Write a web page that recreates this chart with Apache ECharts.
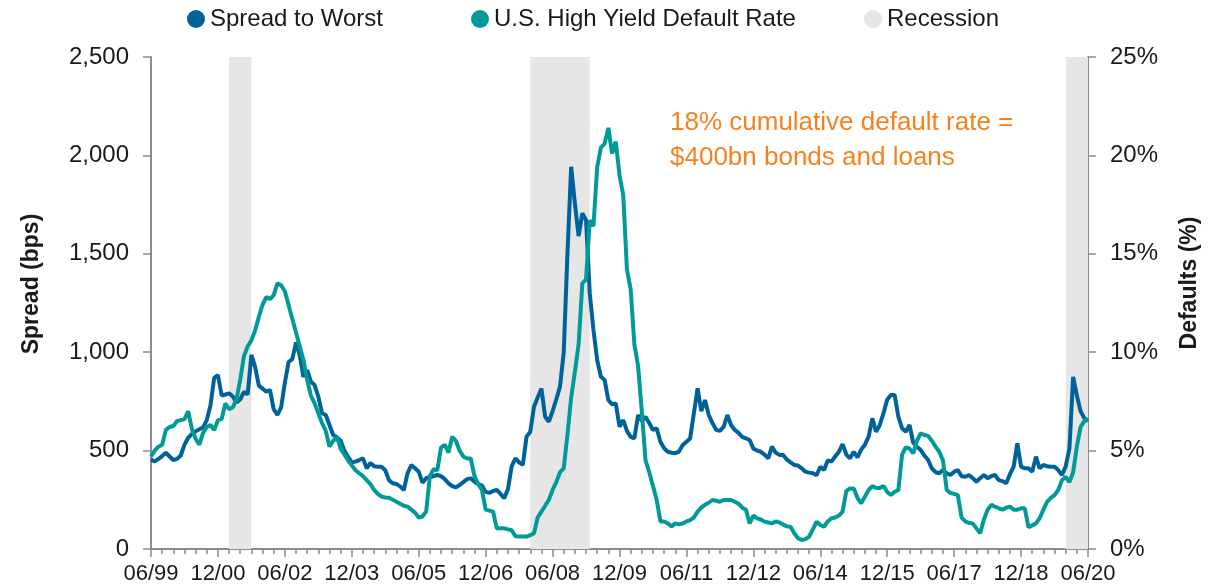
<!DOCTYPE html>
<html lang="en">
<head>
    <meta charset="utf-8" />
    <title>Spread to Worst vs U.S. High Yield Default Rate</title>
    <script type="text/javascript" src="https://cdn.jsdelivr.net/npm/echarts@6/dist/echarts.min.js"></script>
</head>
<body style="margin:0;background-color:#fff">
    <div id="container" style="width:1214px;height:588px;"></div>
</body>
</html>
<script type="text/javascript">
    // monthly categories 06/99 .. 06/20
    var months = [];
    for (var k = 0; k <= 252; k++) {
        var m = 5 + k;
        var mm = (m % 12) + 1;
        var yy = (1999 + Math.floor(m / 12)) % 100;
        months.push((mm < 10 ? '0' : '') + mm + '/' + (yy < 10 ? '0' : '') + yy);
    }

    // spread to worst, bps (left axis)
    var spreadToWorst = [
        455, 445, 458, 472, 489, 470, 452, 458, 475, 530, 565, 585, 598, 608, 618, 655, 730, 870, 884, 780,
        785, 791, 775, 745, 760, 799, 785, 986, 925, 830, 815, 800, 808, 710, 681, 720, 845, 950, 965, 1050,
        985, 875, 909, 850, 833, 774, 690, 681, 630, 579, 568, 550, 500, 468, 440, 444, 452, 461, 410, 437,
        420, 418, 418, 400, 350, 334, 330, 318, 300, 385, 427, 410, 393, 337, 360, 367, 370, 376, 370, 355,
        334, 320, 313, 325, 340, 355, 359, 342, 330, 322, 290, 285, 295, 300, 280, 258, 305, 420, 461, 440,
        427, 571, 596, 723, 770, 816, 672, 647, 700, 760, 825, 1000, 1500, 1942, 1756, 1590, 1706, 1672, 1300, 1113,
        960, 875, 859, 757, 735, 740, 621, 655, 600, 570, 562, 681, 650, 672, 640, 605, 613, 545, 512, 494,
        489, 487, 495, 528, 545, 562, 690, 816, 700, 757, 681, 640, 605, 600, 620, 681, 630, 605, 590, 570,
        562, 554, 510, 500, 494, 480, 461, 520, 490, 478, 478, 455, 440, 427, 424, 410, 393, 388, 385, 375,
        418, 401, 450, 444, 470, 494, 533, 480, 461, 494, 466, 505, 530, 571, 664, 596, 630, 690, 760, 782,
        782, 672, 613, 596, 630, 540, 520, 503, 475, 452, 410, 390, 385, 401, 385, 376, 393, 401, 370, 367,
        376, 360, 342, 360, 376, 359, 370, 376, 350, 345, 334, 380, 418, 537, 418, 410, 410, 393, 469, 410,
        427, 420, 418, 418, 401, 376, 420, 510, 875, 780, 700, 665, 650
    ];

    // U.S. high yield default rate, % (right axis)
    var defaultRate = [
        4.7, 5.0, 5.2, 5.3, 6.05, 6.2, 6.25, 6.5, 6.55, 6.6, 7.0, 6.1, 5.6, 5.3, 5.9, 6.2, 6.3, 6.05, 6.55, 6.6,
        7.4, 7.1, 7.2, 7.6, 8.6, 9.8, 10.3, 10.6, 11.1, 11.8, 12.4, 12.8, 12.7, 12.9, 13.5, 13.4, 13.1, 12.4, 11.7, 11.0,
        10.3, 9.6, 8.6, 7.8, 7.4, 6.9, 6.4, 6.0, 5.2, 5.5, 5.7, 5.1, 4.8, 4.5, 4.25, 4.0, 3.85, 3.7, 3.5, 3.3,
        3.0, 2.8, 2.66, 2.62, 2.6, 2.5, 2.4, 2.3, 2.2, 2.15, 2.0, 1.85, 1.6, 1.65, 1.9, 3.7, 4.05, 4.0, 5.15, 5.3,
        4.9, 5.7, 5.5, 5.0, 4.7, 4.6, 4.6, 3.7, 3.3, 3.0, 2.0, 1.95, 1.9, 1.05, 1.05, 1.05, 1.0, 0.95, 0.65, 0.63,
        0.63, 0.63, 0.7, 0.8, 1.6, 1.9, 2.2, 2.5, 3.0, 3.4, 3.9, 4.1, 5.8, 7.7, 9.0, 10.4, 13.5, 13.7, 16.7, 16.4,
        19.4, 20.4, 20.6, 21.4, 20.1, 20.7, 19.0, 18.0, 14.2, 13.2, 10.4, 9.3, 7.0, 4.5, 3.9, 3.2, 2.5, 1.4, 1.4, 1.3,
        1.15, 1.3, 1.25, 1.3, 1.4, 1.47, 1.6, 1.9, 2.1, 2.25, 2.35, 2.49, 2.45, 2.4, 2.49, 2.49, 2.49, 2.4, 2.3, 2.1,
        2.0, 1.3, 1.7, 1.56, 1.5, 1.39, 1.35, 1.3, 1.4, 1.35, 1.25, 1.15, 1.13, 0.8, 0.55, 0.46, 0.5, 0.63, 1.0, 1.39,
        1.22, 1.13, 1.4, 1.56, 1.6, 1.7, 1.9, 2.95, 3.08, 3.08, 2.6, 2.32, 2.66, 3.0, 3.2, 3.1, 3.1, 3.2, 2.9, 2.74,
        2.91, 3.0, 4.8, 5.17, 5.1, 4.86, 5.5, 5.88, 5.79, 5.75, 5.5, 5.2, 4.94, 4.5, 3.0, 2.85, 2.8, 2.74, 1.6, 1.4,
        1.32, 1.3, 1.05, 0.8, 1.5, 2.0, 2.24, 2.15, 2.07, 2.0, 2.1, 2.15, 2.0, 2.0, 2.07, 2.07, 1.1, 1.2, 1.3, 1.56,
        2.0, 2.4, 2.6, 2.74, 3.0, 3.5, 3.67, 3.4, 3.9, 5.2, 6.2, 6.5, 6.64
    ];

    // recession periods (start, end month)
    var recessions = [['03/01', '09/01'], ['12/07', '04/09'], ['12/19', '06/20']];

    var font = "'Liberation Sans', Arial, sans-serif";
    var dom = document.getElementById("container");
    var myChart = echarts.init(dom);

    // one legend box per item so the gaps can follow the original
    var legendBase = {
        top: 2,
        icon: 'circle',
        itemWidth: 18,
        itemHeight: 18,
        textStyle: { fontSize: 24, color: '#1a1a1a', fontFamily: font }
    };

    var option = {
        backgroundColor: '#ffffff',
        animation: false,
        textStyle: { fontFamily: font },
        legend: [
            echarts.util.extend({ data: ['Spread to Worst'], left: 182 }, legendBase),
            echarts.util.extend({ data: ['U.S. High Yield Default Rate'], left: 466 }, legendBase),
            echarts.util.extend({ data: ['Recession'], left: 859 }, legendBase)
        ],
        grid: { left: 151, right: 126, top: 57, bottom: 39 },
        xAxis: [
            {
                type: 'category',
                data: months,
                boundaryGap: false,
                axisLine: { lineStyle: { color: '#8c8c8c', width: 2 } },
                axisTick: {
                    interval: function (i) { return i % 3 === 0; },
                    length: 5,
                    lineStyle: { color: '#8c8c8c', width: 1.5 }
                },
                axisLabel: {
                    interval: function (i) { return i % 18 === 0; },
                    fontSize: 22,
                    color: '#1a1a1a',
                    margin: 14,
                    showMaxLabel: true
                },
                splitLine: { show: false }
            },
            {
                type: 'category',
                data: months,
                boundaryGap: false,
                position: 'bottom',
                axisLine: { show: false },
                axisTick: {
                    interval: function (i) { return i % 18 === 0; },
                    length: 8,
                    lineStyle: { color: '#8c8c8c', width: 1.5 }
                },
                axisLabel: { show: false },
                splitLine: { show: false }
            }
        ],
        yAxis: [
            {
                type: 'value',
                min: 0,
                max: 2500,
                interval: 500,
                name: 'Spread (bps)',
                nameLocation: 'middle',
                nameGap: 108,
                nameRotate: 90,
                nameTextStyle: { fontSize: 23, fontWeight: 'bold', color: '#1a1a1a', padding: [0, 0, 0, 38] },
                axisLine: { show: true, lineStyle: { color: '#8c8c8c', width: 2 } },
                axisTick: { show: true, length: 8, lineStyle: { color: '#8c8c8c', width: 1.5 } },
                axisLabel: {
                    fontSize: 24,
                    color: '#1a1a1a',
                    margin: 22,
                    formatter: function (v) { return v.toLocaleString('en-US'); }
                },
                splitLine: { show: false }
            },
            {
                type: 'value',
                min: 0,
                max: 25,
                interval: 5,
                position: 'right',
                name: 'Defaults (%)',
                nameLocation: 'middle',
                nameGap: 90,
                nameRotate: 90,
                nameTextStyle: { fontSize: 23, fontWeight: 'bold', color: '#1a1a1a', padding: [0, 0, 0, 40] },
                axisLine: { show: true, lineStyle: { color: '#8c8c8c', width: 2 } },
                axisTick: { show: true, length: 8, lineStyle: { color: '#8c8c8c', width: 1.5 } },
                axisLabel: { fontSize: 24, color: '#1a1a1a', margin: 22, formatter: '{value}%' },
                splitLine: { show: false }
            }
        ],
        graphic: [
            {
                type: 'text',
                left: 670,
                top: 105,
                style: {
                    text: '18% cumulative default rate =\n$400bn bonds and loans',
                    fill: '#f5821f',
                    font: '26px ' + font,
                    lineHeight: 35
                }
            }
        ],
        series: [
            {
                name: 'Recession',
                type: 'line',
                z: 1,
                data: months.map(function () { return null; }),
                itemStyle: { color: '#e6e6e6' },
                lineStyle: { color: '#e6e6e6' },
                markArea: {
                    silent: true,
                    itemStyle: { color: '#e6e6e6' },
                    data: recessions.map(function (r) { return [{ xAxis: r[0] }, { xAxis: r[1] }]; })
                }
            },
            {
                name: 'Spread to Worst',
                type: 'line',
                z: 3,
                data: spreadToWorst,
                showSymbol: false,
                symbol: 'none',
                itemStyle: { color: '#00629b' },
                lineStyle: { color: '#00629b', width: 4 }
            },
            {
                name: 'U.S. High Yield Default Rate',
                type: 'line',
                yAxisIndex: 1,
                z: 4,
                data: defaultRate,
                showSymbol: false,
                symbol: 'none',
                itemStyle: { color: '#009b98' },
                lineStyle: { color: '#009b98', width: 4 }
            }
        ]
    };
    if (option && typeof option === "object") {
        myChart.setOption(option, true);
    }
</script>
